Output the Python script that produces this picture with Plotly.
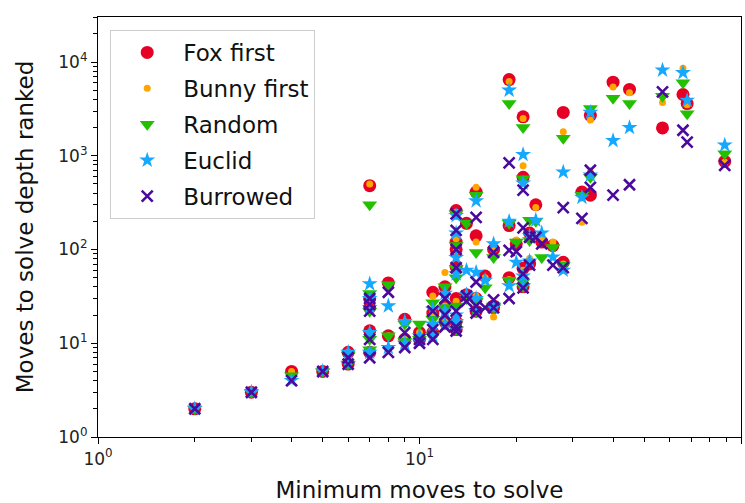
import plotly.graph_objects as go

# x value of each puzzle (minimum moves) and moves needed by each ordering
min_moves = [2, 3, 4, 5, 6, 6, 7, 7, 7, 7, 7, 8, 8, 9, 9, 10, 10, 11, 11, 11,
             12, 12, 12, 13, 13, 13, 13, 13, 13, 13, 14, 14, 15, 15, 15, 15,
             16, 17, 17, 17, 19, 19, 19, 20, 21, 21, 21, 21, 22, 22, 23, 24,
             26, 28, 28, 32, 34, 34, 40, 45, 57, 66, 68, 89]

fox_first = [2, 3, 5, 5, 8, 6, 480, 30, 24, 13.6, 8, 44, 12, 18, 11, 13, 11, 35, 21, 13,
             40, 25, 17, 260, 120, 100, 65, 30, 17, 14, 190, 33, 410, 140, 30, 22,
             52, 100, 25, 24, 6500, 180, 50, 115, 2600, 590, 63, 40, 150, 70, 300, 120,
             110, 2900, 73, 410, 2700, 380, 6100, 5100, 1980, 4500, 3600, 870]

bunny_first = [2, 3, 5, 5, 8, 6, 500, 28, 22, 13, 8, 40, 12, 17, 11, 13, 11, 32, 20, 13,
               57, 25, 17, 250, 130, 95, 60, 28, 16, 14, 190, 31, 460, 120, 32, 22,
               50, 100, 19, 24, 6200, 190, 48, 126, 2500, 780, 60, 40, 140, 80, 280, 130,
               120, 1800, 70, 195, 2400, 670, 5400, 4700, 3700, 8600, 3500, 850]

random_order = [2, 3, 4.5, 5, 7.5, 6, 300, 34, 22, 11, 8.5, 42, 12, 16, 10.5, 16, 11, 27, 18, 12,
                40, 24, 16, 240, 110, 63, 50, 25, 16, 14, 190, 30, 380, 93, 28, 22,
                39, 82, 25, 24, 3600, 190, 47, 120, 2000, 570, 45, 40, 205, 125, 200, 82,
                105, 1540, 68, 380, 3200, 590, 4100, 3600, 4300, 6000, 2800, 1050]

euclid = [2, 3, 4, 5, 8, 6, 43, 30, 24, 13, 8, 25, 9, 17, 10, 12, 10.5, 23, 16, 12,
          34, 22, 16, 230, 150, 82, 55, 20, 17, 14, 60, 33, 330, 57, 30, 22,
          47, 115, 25, 24, 5000, 200, 41, 73, 1030, 510, 52, 41, 140, 75, 205, 150,
          83, 670, 60, 360, 2900, 620, 1450, 2000, 8200, 7700, 3900, 1300]

burrowed = [2, 3, 4, 5, 7, 6, 30, 26, 22, 11, 7, 35, 8, 13, 9, 11, 10, 22, 14, 11,
            30, 20, 15, 240, 160, 100, 64, 22, 15, 13.5, 32, 28, 220, 45, 25, 21,
            24, 93, 29, 24, 840, 98, 30, 95, 430, 170, 55, 39, 135, 68, 135, 115,
            68, 280, 64, 215, 700, 460, 380, 490, 4800, 1870, 1400, 790]

series = [
    ("Fox first", fox_first, dict(symbol="circle", size=13, color="#e60026")),
    ("Bunny first", bunny_first, dict(symbol="circle", size=7, color="#ffa500")),
    ("Random", random_order, dict(symbol="triangle-down", size=13, color="#22c000")),
    ("Euclid", euclid, dict(symbol="star", size=12, color="#14a8ff")),
    ("Burrowed", burrowed, dict(symbol="x-thin", size=11, color="#4b0a9e",
                                line=dict(width=2.6, color="#4b0a9e"))),
]

fig = go.Figure()
for i, (name, ys, mk) in enumerate(series):
    if "line" not in mk:
        mk = dict(mk, line=dict(width=0))
    fig.add_trace(go.Scatter(x=min_moves, y=ys, mode="markers", name=name,
                             marker=mk, legendgroup=f"g{i}"))

font_family = "DejaVu Sans"
minor_x = [m * 10 ** e for e in range(0, 2) for m in range(2, 10)]
minor_y = [m * 10 ** e for e in range(0, 5) for m in range(2, 10)]

axis_common = dict(type="log", showline=True, linecolor="black", linewidth=1.2,
                   mirror=True, showgrid=False, zeroline=False, ticks="outside",
                   ticklen=6, tickwidth=1.2, tickcolor="black",
                   tickfont=dict(family=font_family, size=17, color="#222"))

fig.update_layout(
    width=745, height=503,
    margin=dict(l=98, r=4, t=17, b=66),
    paper_bgcolor="white", plot_bgcolor="white",
    font=dict(family=font_family, color="#111"),
    xaxis=dict(axis_common, range=[0, 2], tickmode="array", automargin=False,
               tickvals=[1, 10, 100],
               ticktext=["10<sup>0</sup>", "10<sup>1</sup>", "10<sup>2</sup>"],
               minor=dict(tickvals=minor_x, ticks="outside", ticklen=3.5,
                          tickwidth=1, tickcolor="black"),
               title=dict(text="Minimum moves to solve",
                          font=dict(family=font_family, size=23, color="#111"),
                          standoff=18)),
    yaxis=dict(axis_common, range=[0, 4.48], tickmode="array", automargin=False,
               tickvals=[1, 10, 100, 1000, 10000],
               ticktext=["10<sup>0</sup>", "10<sup>1</sup>", "10<sup>2</sup>",
                         "10<sup>3</sup>", "10<sup>4</sup>"],
               minor=dict(tickvals=minor_y, ticks="outside", ticklen=3.5,
                          tickwidth=1, tickcolor="black"),
               title=dict(text="Moves to solve depth ranked",
                          font=dict(family=font_family, size=23, color="#111"),
                          standoff=18)),
    legend=dict(x=0.019, y=0.969, xanchor="left", yanchor="top",
                bgcolor="rgba(255,255,255,0.8)", bordercolor="#cccccc",
                borderwidth=1, font=dict(family=font_family, size=23, color="#111"),
                traceorder="grouped", tracegroupgap=3, itemwidth=62),
    showlegend=True,
)

fig.write_html("out.html")
